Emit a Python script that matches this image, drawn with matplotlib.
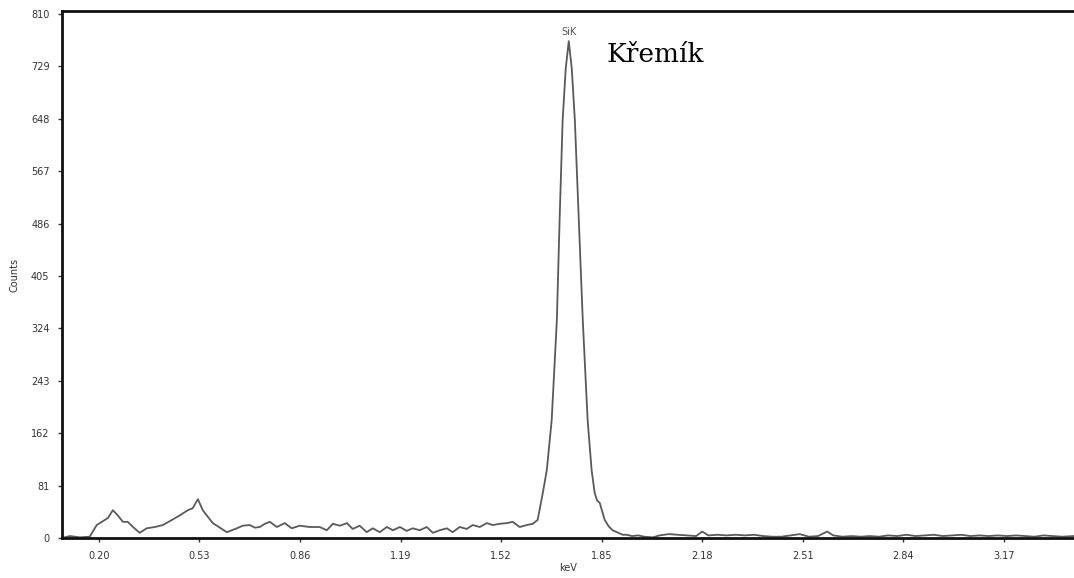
#!/usr/bin/env python3
"""EDS spectrum, Si K line (Křemík). Writes out.png."""
import matplotlib
matplotlib.use("Agg")
import matplotlib.pyplot as plt

# spectrum: energy (keV) vs counts
kev = [0.079, 0.105, 0.138, 0.170, 0.193, 0.210, 0.230, 0.246, 0.262, 0.279,
       0.295, 0.312, 0.334, 0.357, 0.384, 0.410, 0.440, 0.466, 0.492, 0.508,
       0.525, 0.541, 0.554, 0.574, 0.604, 0.620, 0.653, 0.672, 0.695, 0.712,
       0.728, 0.745, 0.761, 0.784, 0.810, 0.833, 0.859, 0.892, 0.925, 0.948,
       0.968, 0.991, 1.014, 1.033, 1.056, 1.079, 1.099, 1.122, 1.145, 1.165,
       1.188, 1.210, 1.230, 1.253, 1.276, 1.296, 1.319, 1.342, 1.361, 1.384,
       1.407, 1.427, 1.450, 1.473, 1.493, 1.516, 1.539, 1.558, 1.581, 1.604,
       1.624, 1.640, 1.657, 1.670, 1.686, 1.703, 1.712, 1.722, 1.732, 1.742,
       1.752, 1.762, 1.775, 1.788, 1.804, 1.817, 1.827, 1.835, 1.844, 1.850,
       1.860, 1.873, 1.886, 1.900, 1.919, 1.932, 1.950, 1.970, 1.990, 2.018,
       2.040, 2.070, 2.100, 2.130, 2.160, 2.180, 2.200, 2.230, 2.260, 2.290,
       2.320, 2.350, 2.380, 2.410, 2.440, 2.470, 2.500, 2.530, 2.560, 2.590,
       2.610, 2.640, 2.670, 2.700, 2.730, 2.760, 2.790, 2.820, 2.850, 2.880,
       2.910, 2.940, 2.970, 3.000, 3.030, 3.060, 3.090, 3.120, 3.150, 3.180,
       3.210, 3.240, 3.270, 3.300, 3.330, 3.360, 3.400]
counts = [0, 3, 1, 2, 20, 25, 31, 43, 35, 25,
          25, 17, 8, 15, 17, 20, 28, 35, 43, 46,
          60, 43, 35, 23, 14, 9, 15, 19, 20, 16,
          17, 22, 25, 17, 23, 15, 19, 17, 17, 12,
          22, 19, 23, 14, 19, 9, 15, 9, 17, 12,
          17, 11, 15, 12, 17, 8, 12, 15, 9, 17,
          14, 20, 17, 23, 20, 22, 23, 25, 17, 20,
          22, 28, 70, 105, 182, 337, 492, 646, 725, 768,
          725, 646, 492, 337, 182, 105, 70, 58, 54, 44,
          28, 18, 12, 9, 5, 5, 3, 4, 2, 1,
          4, 6, 5, 4, 3, 10, 4, 5, 4, 5,
          4, 5, 3, 2, 2, 4, 6, 2, 3, 10,
          4, 2, 3, 2, 3, 2, 4, 3, 5, 3,
          4, 5, 3, 4, 5, 3, 4, 3, 4, 3,
          4, 3, 2, 4, 3, 2, 3]

xticks = [0.20, 0.53, 0.86, 1.19, 1.52, 1.85, 2.18, 2.51, 2.84, 3.17]
yticks = [0, 81, 162, 243, 324, 405, 486, 567, 648, 729, 810]
peak_label = "SiK"
peak_kev, peak_counts = 1.742, 768
name = "Křemík"

fig = plt.figure(figsize=(10.74, 5.78), dpi=100)
ax = fig.add_axes([0.0577, 0.0692, 0.9423, 0.9118])

ax.plot(kev, counts, color="#5a5a5a", lw=1.3)

ax.set_xlim(0.079, 3.40)
ax.set_ylim(0, 814.6)
ax.set_xticks(xticks)
ax.set_xticklabels([f"{v:.2f}" for v in xticks])
ax.set_yticks(yticks)
ax.tick_params(labelsize=7, colors="#333333", length=3, width=1, pad=6)

for s in ("left", "top", "bottom"):
    ax.spines[s].set_linewidth(2)
    ax.spines[s].set_color("#111111")
ax.spines["right"].set_visible(False)

ax.set_xlabel("keV", fontsize=7, color="#333333", labelpad=2)
ax.set_ylabel("Counts", fontsize=7, color="#333333", labelpad=8)

ax.annotate(peak_label, (peak_kev, peak_counts), textcoords="offset points",
            xytext=(0, 3), ha="center", va="bottom", fontsize=7, color="#555555")
ax.text(1.867, 747, name, fontsize=19, family="DejaVu Serif",
        va="center", ha="left", color="black")

fig.savefig("out.png", dpi=100)
